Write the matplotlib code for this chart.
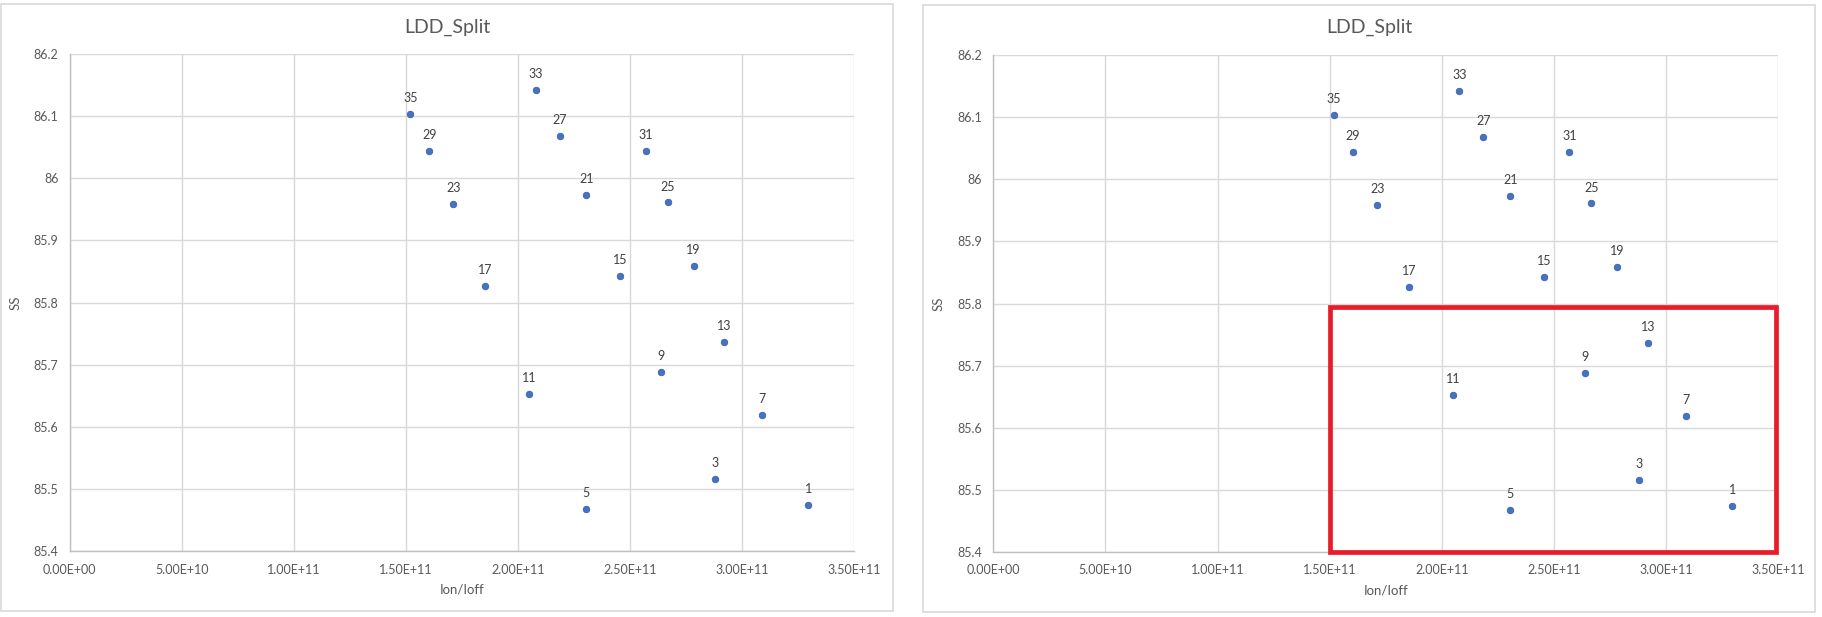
import matplotlib.pyplot as plt
from matplotlib.patches import Rectangle
from matplotlib.ticker import FuncFormatter

plt.rcParams['font.family'] = ['Lato', 'DejaVu Sans']

split_ids = [35, 33, 29, 27, 31, 23, 21, 25, 17, 15, 19, 13, 9, 11, 7, 3, 5, 1]
ion_ioff = [1.52e11, 2.079e11, 1.605e11, 2.186e11, 2.57e11, 1.7125e11, 2.306e11, 2.668e11,
            1.855e11, 2.458e11, 2.784e11, 2.922e11, 2.641e11, 2.052e11, 3.088e11, 2.882e11,
            2.306e11, 3.296e11]
ss = [86.103, 86.142, 86.0435, 86.068, 86.0435, 85.958, 85.973, 85.961,
      85.826, 85.842, 85.858, 85.737, 85.688, 85.653, 85.619, 85.516, 85.467, 85.474]

# region highlighted in the second chart
box_x = [1.5e11, 3.49e11]
box_y = [85.4, 85.795]

W, H = 1822, 617
fig = plt.figure(figsize=(W / 100, H / 100), dpi=100)

GRID = '#D9D9D9'
TXT = '#595959'


def sci(v, pos):
    s = '%.2E' % v
    mant, exp = s.split('E')
    sign = exp[0]
    return '%sE%s%02d' % (mant, sign, int(exp[1:]))


def draw_panel(px0, px1, py0, py1, ax_box, highlight=False):
    # panel frame
    fig.patches.append(Rectangle((px0 / W, 1 - py1 / H), (px1 - px0) / W, (py1 - py0) / H,
                                 transform=fig.transFigure, fill=False, edgecolor=GRID, lw=1.2))
    fig.text((px0 + px1) / 2 / W, 1 - 27 / H, 'LDD_Split', ha='center', va='center',
             fontsize=14, color=TXT)
    l, r, t, b = ax_box
    ax = fig.add_axes([l / W, 1 - b / H, (r - l) / W, (b - t) / H])
    ax.set_xlim(0, 3.5e11)
    ax.set_ylim(85.4, 86.2)
    ax.set_xticks([i * 5e10 for i in range(8)])
    ax.set_yticks([85.4, 85.5, 85.6, 85.7, 85.8, 85.9, 86.0, 86.1, 86.2])
    ax.set_yticklabels(['85.4', '85.5', '85.6', '85.7', '85.8', '85.9', '86', '86.1', '86.2'])
    ax.xaxis.set_major_formatter(FuncFormatter(sci))
    ax.tick_params(length=0, labelsize=9, colors=TXT)
    ax.tick_params(axis='x', pad=9)
    ax.tick_params(axis='y', pad=8)
    ax.grid(True, color=GRID, lw=1)
    ax.set_axisbelow(True)
    for side in ['top', 'right']:
        ax.spines[side].set_visible(False)
    for side in ['left', 'bottom']:
        ax.spines[side].set_color('#BFBFBF')
        ax.spines[side].set_linewidth(1)
    ax.set_xlabel('Ion/Ioff', fontsize=9.5, color=TXT, labelpad=5.5)
    ax.set_ylabel('SS', fontsize=9.5, color=TXT, labelpad=9)

    if highlight:
        ax.add_patch(Rectangle((box_x[0], box_y[0]), box_x[1] - box_x[0], box_y[1] - box_y[0],
                               fill=False, edgecolor='#E81C2A', lw=3.4, clip_on=False, zorder=3))

    ax.scatter(ion_ioff, ss, s=22, color='#4472C4', edgecolors='#3B63AD', linewidths=0.6,
               zorder=4, clip_on=False)
    for n, x, y in zip(split_ids, ion_ioff, ss):
        ax.annotate(str(n), (x, y), xytext=(0, 11.5), textcoords='offset points',
                    ha='center', va='center', fontsize=9, color='#404040', zorder=5)
    return ax


draw_panel(1, 893, 4, 611, (69.6, 854, 54, 551))
draw_panel(923, 1815, 5, 612, (993.3, 1778, 55, 552), highlight=True)

plt.savefig('out.png', dpi=100)
